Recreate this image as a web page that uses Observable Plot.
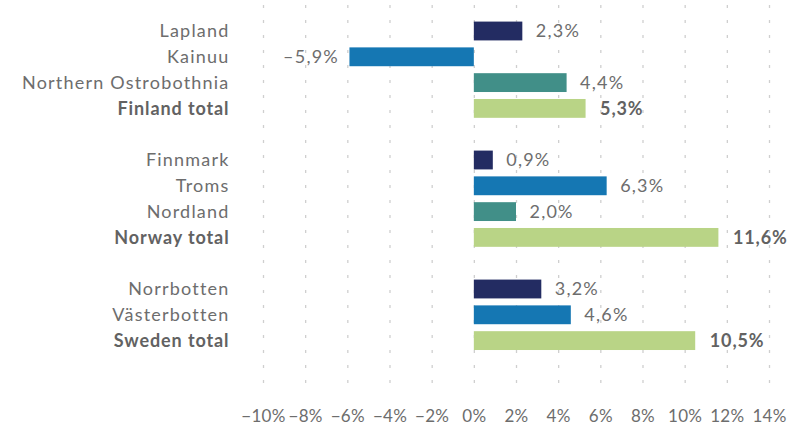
<!DOCTYPE html>
<html>
<head>
<meta charset="utf-8">
<script src="https://cdn.jsdelivr.net/npm/d3@7"></script>
<script src="https://cdn.jsdelivr.net/npm/@observablehq/plot@0.6"></script>
<style>
  html, body { margin: 0; padding: 0; background: #fff; }
  #chart { width: 789px; height: 430px; }
  #chart svg g[aria-label="text"] text { letter-spacing: 1.2px; }
  #chart svg g[aria-label="text"][font-weight="bold"] text { letter-spacing: 0.9px; }
  #chart svg g[aria-label="x-axis tick label"] text { letter-spacing: 0.3px; }
</style>
</head>
<body>
<div id="chart"></div>
<script>
const regions = ["Lapland", "Kainuu", "Northern Ostrobothnia", "Finland total",
  "Finnmark", "Troms", "Nordland", "Norway total",
  "Norrbotten", "Västerbotten", "Sweden total"];
const values = [2.3, -5.9, 4.4, 5.3, 0.9, 6.3, 2.0, 11.6, 3.2, 4.6, 10.5];
const kinds = ["r1", "r2", "r3", "total", "r1", "r2", "r3", "total", "r1", "r2", "total"];
const yOrder = ["Lapland", "Kainuu", "Northern Ostrobothnia", "Finland total", "gap1",
  "Finnmark", "Troms", "Nordland", "Norway total", "gap2",
  "Norrbotten", "Västerbotten", "Sweden total", "gap3"];
const xTicks = [-10, -8, -6, -4, -2, 0, 2, 4, 6, 8, 10, 12, 14];
const kindColors = {r1: "#232c62", r2: "#1577b3", r3: "#418f88", total: "#b9d486"};

const data = regions.map((r, i) => ({region: r, value: values[i], kind: kinds[i]}));
const fmt = v => (v < 0 ? "\u2013" : "") + Math.abs(v).toFixed(1).replace(".", ",") + "%";
const textColor = "#6d6d6d";
const boldColor = "#626262";
const font = "Lato, 'Open Sans', sans-serif";

const chart = Plot.plot({
  width: 789,
  height: 430,
  marginLeft: 263,
  marginRight: 20,
  marginTop: 5,
  marginBottom: 38,
  style: {fontFamily: font, background: "#fff", color: textColor},
  x: {domain: [-10, 14], axis: null},
  y: {domain: yOrder, range: [18.1, 379.3], paddingInner: 0.27, paddingOuter: 0.135, round: false, axis: null},
  marks: [
    Plot.ruleX(xTicks, {stroke: "#cfcfcf", strokeWidth: 1.3, strokeDasharray: "3,12"}),
    Plot.barX(data, {x: "value", y: "region", fill: d => kindColors[d.kind]}),
    Plot.text(data.filter(d => d.kind !== "total"), {
      x: () => -10, y: "region", text: "region", textAnchor: "end", dx: -34,
      fontSize: 18, fill: textColor
    }),
    Plot.text(data.filter(d => d.kind === "total"), {
      x: () => -10, y: "region", text: "region", textAnchor: "end", dx: -34,
      fontSize: 18, fontWeight: "bold", fill: boldColor
    }),
    Plot.text(data.filter(d => d.value >= 0 && d.kind !== "total"), {
      x: "value", y: "region", text: d => fmt(d.value), textAnchor: "start", dx: 13,
      fontSize: 18, fill: textColor
    }),
    Plot.text(data.filter(d => d.value >= 0 && d.kind === "total"), {
      x: "value", y: "region", text: d => fmt(d.value), textAnchor: "start", dx: 14,
      fontSize: 18, fontWeight: "bold", fill: boldColor
    }),
    Plot.text(data.filter(d => d.value < 0), {
      x: "value", y: "region", text: d => fmt(d.value), textAnchor: "end", dx: -11,
      fontSize: 18, fill: textColor
    }),
    Plot.axisX({
      ticks: xTicks, tickSize: 0, tickPadding: 17, fontSize: 17, fill: textColor, label: null,
      tickFormat: d => (d < 0 ? "\u2212" : "") + Math.abs(d) + "%"
    })
  ]
});
document.getElementById("chart").appendChild(chart);
</script>
</body>
</html>
